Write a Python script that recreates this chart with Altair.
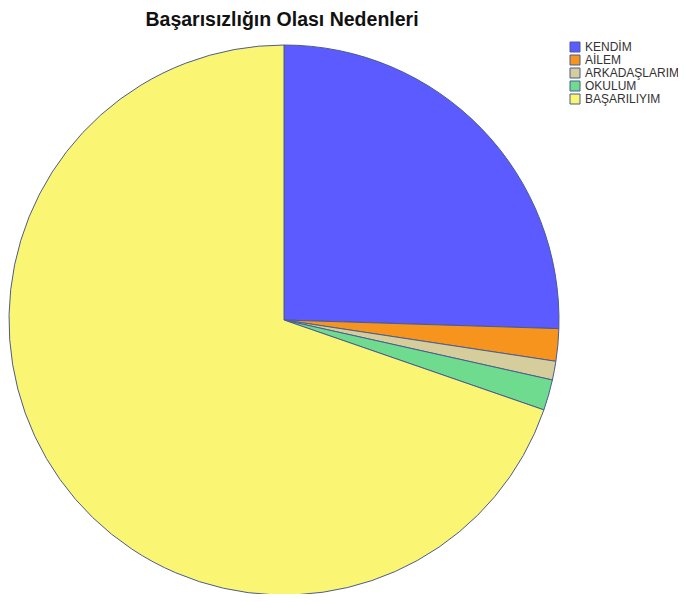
import altair as alt
import pandas as pd

categories = ["KENDİM", "AİLEM", "ARKADAŞLARIM", "OKULUM", "BAŞARILIYIM"]
values = [25.5, 1.9, 1.1, 1.8, 69.7]
colors = ["#5B5BFF", "#F7941E", "#D5CD9B", "#6EDB8E", "#FAF572"]

df = pd.DataFrame({"cat": categories, "val": values, "idx": list(range(len(categories)))})

W = 548
H = 602 - 16 - 30

chart = alt.Chart(df).mark_arc(
    radius=275, stroke="#4B5C8F", strokeWidth=1
).encode(
    theta=alt.Theta("val:Q", stack=True),
    order=alt.Order("idx:Q"),
    color=alt.Color(
        "cat:N",
        scale=alt.Scale(domain=categories, range=colors),
        legend=alt.Legend(
            title=None, orient="none", legendX=561, legendY=3,
            symbolType="square", symbolSize=100, symbolStrokeColor="#4B5C8F",
            symbolStrokeWidth=1, labelFont="Liberation Sans", labelFontSize=12,
            labelColor="#333333", rowPadding=-2, labelOffset=4, labelLimit=200,
        ),
    ),
    x=alt.value(276),
    y=alt.value(282),
).properties(
    width=W, height=H,
    title=alt.TitleParams(
        "Başarısızlığın Olası Nedenleri", font="Liberation Sans", fontSize=19.5,
        fontWeight="bold", color="#111111", anchor="middle", offset=8,
    ),
    autosize=alt.AutoSizeParams(type="none"),
    padding={"top": 30, "left": 0, "right": 122, "bottom": 0},
).configure_view(stroke=None)

chart.save("out.html", embed_options={"renderer": "svg", "actions": False})
